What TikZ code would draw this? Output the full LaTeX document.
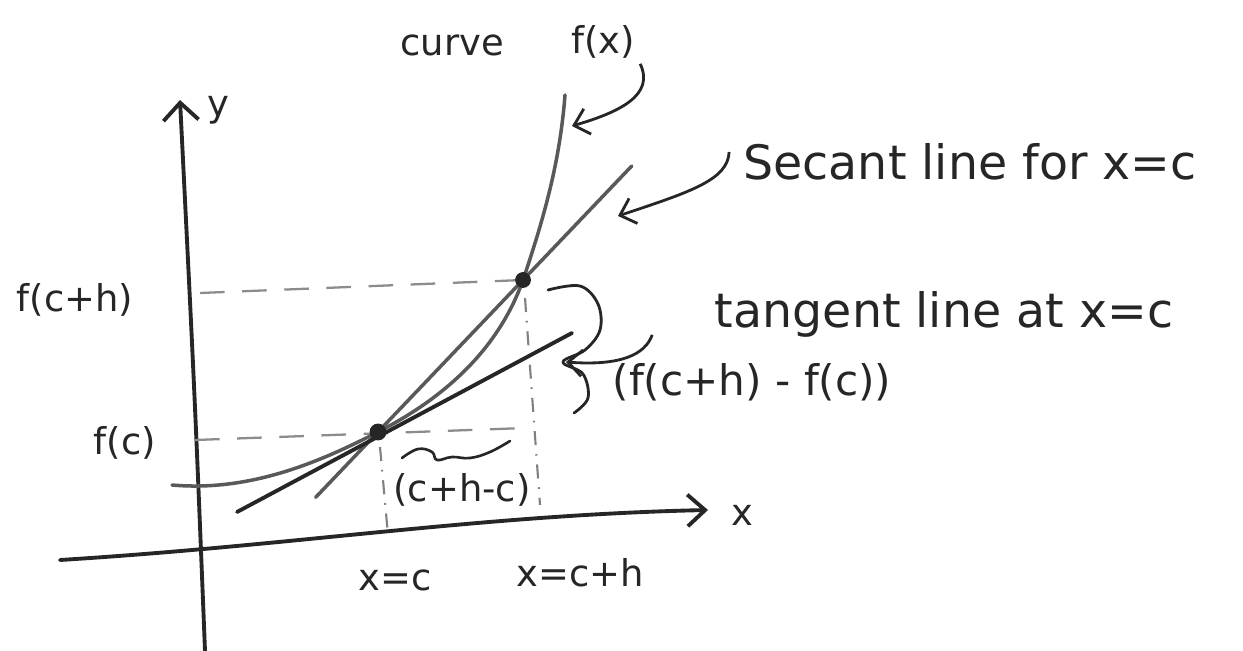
\documentclass[tikz,border=0pt]{standalone}
\usepackage{fontspec}
\setmainfont{DejaVu Sans}
\usetikzlibrary{arrows.meta,calc}
\tikzset{
  ink/.style={line width=2.2pt, black!85, line cap=round, line join=round},
  pale/.style={line width=2pt, black!65, line cap=round},
  guide/.style={line width=1.3pt, black!45, dash pattern=on 14pt off 10pt},
  drop/.style={line width=1.2pt, black!50, dash pattern=on 8pt off 5pt on 1pt off 5pt},
  hand/.style={font=\fontsize{21}{25}\selectfont, inner sep=0pt, black!85},
  note/.style={hand, font=\fontsize{27}{32}\selectfont},
  pin/.style={line width=1.6pt, black!85, -{Straight Barb[length=8pt,width=15pt]}},
}
\begin{document}
\begin{tikzpicture}[x=0.02cm,y=-0.02cm]
  \useasboundingbox (0,0) rectangle (1243,651);

  % axes
  \coordinate (ybot) at (205,651);
  \coordinate (ytop) at (180,100);
  \coordinate (xleft) at (60,560);
  \coordinate (xright) at (708,510);
  \draw[ink, -{Straight Barb[length=10pt,width=20pt]}] (ybot) .. controls (195,400) .. (ytop);
  \draw[ink, -{Straight Barb[length=10pt,width=18pt]}] (xleft) .. controls (300,545) and (480,515) .. (xright);
  \node[hand] (ylbl) at (218,110) {y};
  \node[hand] (xlbl) at (742,515) {x};

  % the two points
  \coordinate (pc) at (378,432);
  \coordinate (pch) at (523,280);

  % guides
  \draw[guide] (200,293) -- (pch);
  \draw[guide] (195,440) -- (525,428);
  \draw[drop] (380,447) -- (388,535);
  \draw[drop] (525,298) -- (540,505);

  % curve f(x)
  \draw[pale] (172,485) .. controls (250,492) and (320,462) .. (pc)
     .. controls (450,395) and (500,345) .. (pch)
     .. controls (545,215) and (560,160) .. (565,95);

  % secant and tangent
  \draw[pale] ($(pc)!-0.43!(pch)$) -- ($(pc)!1.75!(pch)$);
  \draw[ink] (237,512) -- (572,333);

  \fill[black!85] (pc) circle (4.8pt);
  \fill[black!85] (pch) circle (4.5pt);

  % labels on the axes
  \node[hand] (fcth) at (75,300) {f(c+h)};
  \node[hand] (fc) at (125,443) {f(c)};
  \node[hand] (xc) at (395,580) {x=c};
  \node[hand] (xch) at (580,573) {x=c+h};
  \node[hand] (dx) at (462,490) {(c+h-c)};

  % squiggle over (c+h-c)
  \draw[ink, line width=1.5pt] plot[smooth, tension=0.7] coordinates
    {(402,458) (418,449) (432,452) (437,460) (452,457) (470,458) (490,452) (510,441)};

  % curly brace beside the rise
  \draw[ink, line width=1.6pt] plot[smooth, tension=0.6] coordinates
    {(548,290) (580,286) (598,304) (600,330) (585,350) (563,362) (583,374) (588,398) (574,413)};

  % right hand notes
  \node[hand] (curvelbl) at (452,45) {curve};
  \node[hand] (fxlbl) at (603,42) {f(x)};
  \node[note] (seclbl) at (970,162) {Secant line for x=c};
  \node[note] (tanlbl) at (944,314) {tangent line at x=c};
  \node[hand, font=\fontsize{24}{28}\selectfont] (dylbl) at (752,382) {(f(c+h) - f(c))};

  \coordinate (curvept) at (572,126);
  \coordinate (secpt) at (618,216);
  \coordinate (bracept) at (566,362);
  \draw[pin] (fxlbl.south east) ++(5,5) .. controls (655,95) and (620,112) .. (curvept);
  \draw[pin] (seclbl.west) ++(-14,-10) .. controls (728,180) and (690,192) .. (secpt);
  \draw[pin] (dylbl.north west) ++(40,-28) .. controls (645,355) and (620,366) .. (bracept);
\end{tikzpicture}
\end{document}
